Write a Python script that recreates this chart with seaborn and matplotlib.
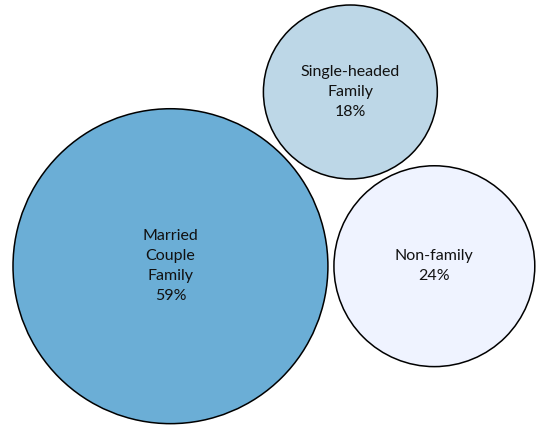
import numpy as np
import pandas as pd
import matplotlib
matplotlib.use("Agg")
import matplotlib.pyplot as plt
import seaborn as sns

# Household types, share of households (%)
groups = ["Married Couple Family", "Non-family", "Single-headed Family"]
labels = ["Married\nCouple\nFamily\n59%", "Non-family\n24%", "Single-headed\nFamily\n18%"]
shares = [59, 24, 18]
colors = ["#6baed6", "#eff3ff", "#bdd7e7"]

W, H, DPI = 540, 425, 100
scale = 20.5   # pixels per sqrt(percent)
pad = 6        # gap between bubbles (px)

# bubble radius ~ sqrt(share), simple pack: biggest, next to its right, last on top of both
r = scale * np.sqrt(np.array(shares, dtype=float))
d01 = r[0] + r[1] + pad
d02 = r[0] + r[2] + pad
d12 = r[1] + r[2] + pad
a = (d02**2 - d12**2 + d01**2) / (2 * d01)
xs = np.array([0.0, d01, a])
ys = np.array([0.0, 0.0, np.sqrt(d02**2 - a**2)])

df = pd.DataFrame({"group": groups, "label": labels, "x": xs, "y": ys, "r": r})

sns.set_theme(style="white")
plt.rcParams["font.family"] = ["Lato", "DejaVu Sans"]

fig = plt.figure(figsize=(W / DPI, H / DPI), dpi=DPI)
ax = fig.add_axes([0, 0, 1, 1])

# 1 data unit = 1 pixel, margins left/top
left = (xs - r).min() - 13
top = (ys + r).max() + 5
ax.set_xlim(left, left + W)
ax.set_ylim(top - H, top)

# marker area in points^2 so the bubble diameter matches 2r pixels
sizes = {g: (2 * rr * 72 / DPI) ** 2 for g, rr in zip(groups, r)}
sns.scatterplot(data=df, x="x", y="y", hue="group", size="group",
                palette=dict(zip(groups, colors)), sizes=sizes,
                edgecolor="black", linewidth=1.1, legend=False, ax=ax)

for _, row in df.iterrows():
    ax.text(row["x"], row["y"], row["label"], ha="center", va="center",
            fontsize=11.5, color="#111111", linespacing=1.55)

ax.set_axis_off()
fig.savefig("out.png", dpi=DPI)
